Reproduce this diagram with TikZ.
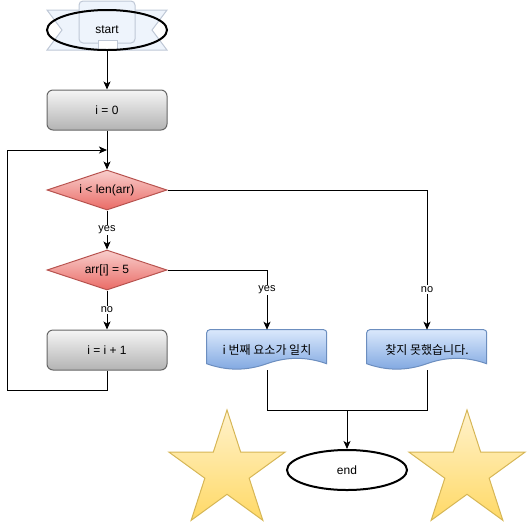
\documentclass[tikz,border=0pt]{standalone}
\usepackage{fontspec}
\setmainfont{Liberation Sans}
\newfontfamily\kr{Noto Sans CJK KR}
\usetikzlibrary{shapes.geometric,arrows.meta}
\definecolor{grayT}{HTML}{F5F5F5}
\definecolor{grayB}{HTML}{B3B3B3}
\definecolor{grayS}{HTML}{666666}
\definecolor{redT}{HTML}{F8CECC}
\definecolor{redB}{HTML}{EA6B66}
\definecolor{redS}{HTML}{B85450}
\definecolor{blueT}{HTML}{DAE8FC}
\definecolor{blueB}{HTML}{7EA6E0}
\definecolor{blueS}{HTML}{6C8EBF}
\definecolor{starT}{HTML}{FFF2CC}
\definecolor{starB}{HTML}{FFD966}
\definecolor{starS}{HTML}{D6B656}
\definecolor{ribF}{HTML}{EEF4FC}
\definecolor{ribS}{HTML}{BFC8D6}
\begin{document}
\begin{tikzpicture}[x=0.75pt,y=0.75pt,
  font=\fontsize{9}{11}\selectfont,
  proc/.style={rectangle, rounded corners=4.5pt, draw=grayS, top color=grayT, bottom color=grayB,
    minimum width=90pt, minimum height=30pt, line width=0.75pt, inner sep=0pt},
  dec/.style={diamond, aspect=3, draw=redS, top color=redT, bottom color=redB,
    minimum width=90pt, minimum height=30pt, line width=0.75pt, inner sep=0pt},
  term/.style={ellipse, draw=black, line width=1.5pt, minimum width=90pt, minimum height=30pt, inner sep=0pt},
  docbox/.style={rectangle, minimum width=90pt, minimum height=30pt, inner sep=0pt},
  docshape/.style={draw=blueS, top color=blueT, bottom color=blueB, line width=0.75pt},
  starshape/.style={star, star points=5, star point ratio=2.618, minimum size=91.5pt, inner sep=0pt,
    draw=starS, top color=starT, bottom color=starB, line width=0.75pt},
  conn/.style={line width=0.75pt},
  arr/.style={line width=0.75pt, -{Stealth[length=6pt,width=5.25pt,inset=1.5pt]}},
  lbl/.style={fill=white, font=\fontsize{8.25}{10}\selectfont, inner sep=1pt}
]
\useasboundingbox (0,0) rectangle (528,-522);

% start decorations
\draw[draw=ribS, fill=ribF, line width=0.75pt] (47,-10) -- (167,-10) -- (152,-30) -- (167,-50) -- (47,-50) -- (62,-30) -- cycle;
\draw[draw=ribS, fill=ribF, line width=0.75pt, rounded corners=3pt] (79,-1) rectangle (135,-43);
\draw[draw=ribS, fill=white, line width=0.75pt] (98,-40) rectangle (117,-50);

% stars
\node[starshape] (star1) at (227,-471) {};
\node[starshape] (star2) at (467,-471) {};

% nodes
\node[term] (start) at (107,-30) {start};
\node[proc] (i0) at (107,-110) {i = 0};
\node[dec] (d1) at (107,-190) {i < len(arr)};
\node[dec] (d2) at (107,-270) {arr[i] = 5};
\node[proc] (inc) at (107,-350) {i = i + 1};
\node[docbox] (doc1) at (267,-350) {};
\node[docbox] (doc2) at (427,-350) {};
\node[term] (end) at (347,-470) {end};

% document shapes
\foreach \d in {doc1,doc2}{
  \begin{scope}[shift={(\d.north west)}]
    \path[docshape] (120,-34) -- (120,-3) arc[start angle=0,end angle=90,radius=2.25pt] -- (3,0)
      arc[start angle=90,end angle=180,radius=2.25pt] -- (0,-34)
      .. controls (20,-41.2) and (40,-41.2) .. (60,-34)
      .. controls (80,-26.8) and (100,-26.8) .. (120,-34) -- cycle;
  \end{scope}
}
\node at ([yshift=0pt]doc1.center) {\kr i 번째 요소가 일치};
\node at ([yshift=0pt]doc2.center) {\kr 찾지 못했습니다.};

% coordinates
\coordinate (lp1) at (7,-390);
\coordinate (lp2) at (7,-150);
\coordinate (join) at (107,-150);
\coordinate (m) at (347,-410);
\coordinate (mr) at (427,-410);

% connectors
\draw[arr] (start) -- (i0);
\draw[arr] (i0) -- (d1);
\draw[arr] (inc.south) |- (lp1) -- (lp2) -- (join);
\draw[arr] (d1) -- node[lbl]{yes} (d2);
\draw[arr] (d2) -- node[lbl]{no} (inc);
\draw[arr] (d2.east) -| node[lbl,pos=0.667]{yes} (doc1.north);
\draw[arr] (d1.east) -| node[lbl,pos=0.857]{no} (doc2.north);
\draw[conn] (doc1.south) |- (mr) -- (doc2.south);
\draw[arr] (m) -- (end);
\end{tikzpicture}
\end{document}
